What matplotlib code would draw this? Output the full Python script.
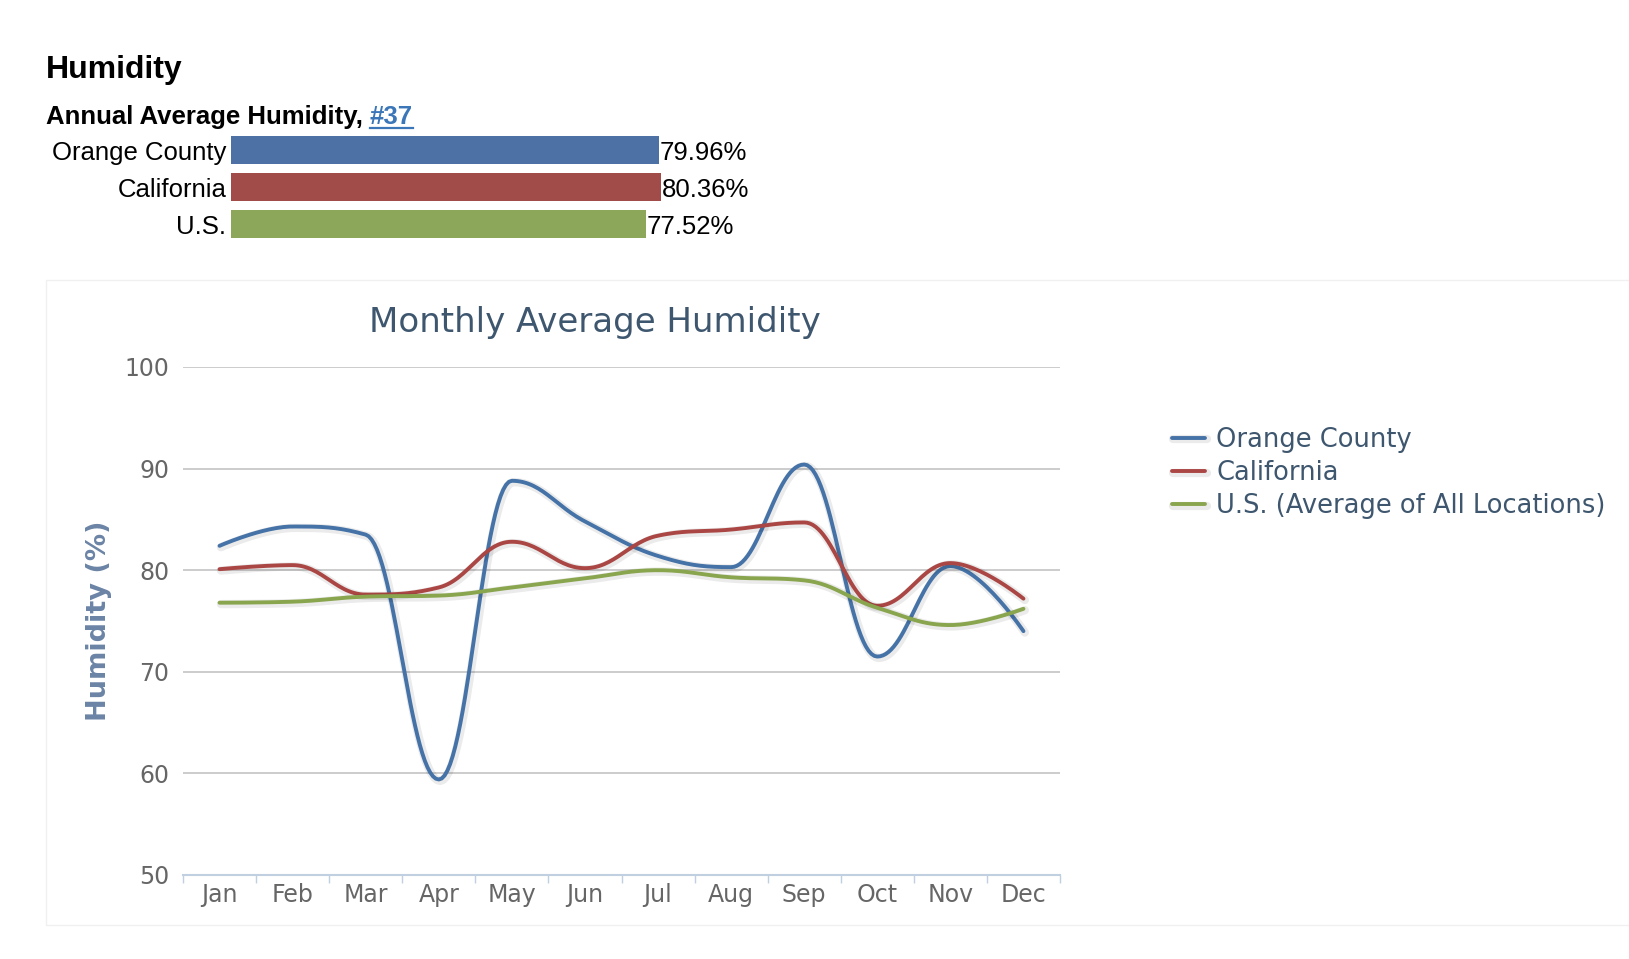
import matplotlib
matplotlib.use("Agg")
import matplotlib.pyplot as plt
import matplotlib.patheffects as pe
from matplotlib.patches import Rectangle
from matplotlib.lines import Line2D
import numpy as np

W, H = 1629, 959

months = ["Jan", "Feb", "Mar", "Apr", "May", "Jun", "Jul", "Aug", "Sep", "Oct", "Nov", "Dec"]
orange_county = [82.4, 84.3, 83.5, 59.4, 88.8, 84.8, 81.4, 80.3, 90.4, 71.5, 80.4, 74.0]
california = [80.1, 80.5, 77.6, 78.3, 82.8, 80.2, 83.4, 84.0, 84.7, 76.5, 80.7, 77.2]
us_avg = [76.8, 76.9, 77.4, 77.5, 78.3, 79.2, 80.0, 79.3, 79.0, 76.3, 74.6, 76.2]

annual_names = ["Orange County", "California", "U.S."]
annual_values = [79.96, 80.36, 77.52]
annual_rank = "#37"

line_names = ["Orange County", "California", "U.S. (Average of All Locations)"]
line_colors = ["#4572A7", "#AA4643", "#89A54E"]
bar_colors = ["#4E71A5", "#A14C49", "#8CA759"]


def fx(px):
    return px / W


def fy(py):
    return 1 - py / H


def spline(xs, ys, smoothing=1.5, steps=30):
    # highcharts style spline: bezier segments with smoothed control points
    n = len(xs)
    left = [(x, y) for x, y in zip(xs, ys)]
    right = [(x, y) for x, y in zip(xs, ys)]
    denom = smoothing + 1
    for i in range(1, n - 1):
        x, y = xs[i], ys[i]
        lx, ly = xs[i - 1], ys[i - 1]
        nx, ny = xs[i + 1], ys[i + 1]
        lcx = (smoothing * x + lx) / denom
        lcy = (smoothing * y + ly) / denom
        rcx = (smoothing * x + nx) / denom
        rcy = (smoothing * y + ny) / denom
        corr = (rcy - lcy) * (rcx - x) / (rcx - lcx) + y - rcy
        lcy += corr
        rcy += corr
        if lcy > ly and lcy > y:
            lcy = max(ly, y)
            rcy = 2 * y - lcy
        elif lcy < ly and lcy < y:
            lcy = min(ly, y)
            rcy = 2 * y - lcy
        if rcy > ny and rcy > y:
            rcy = max(ny, y)
            lcy = 2 * y - rcy
        elif rcy < ny and rcy < y:
            rcy = min(ny, y)
            lcy = 2 * y - rcy
        left[i] = (lcx, lcy)
        right[i] = (rcx, rcy)
    t = np.linspace(0, 1, steps)
    outx, outy = [], []
    for i in range(1, n):
        p0 = (xs[i - 1], ys[i - 1])
        p1 = right[i - 1]
        p2 = left[i]
        p3 = (xs[i], ys[i])
        bx = (1 - t) ** 3 * p0[0] + 3 * (1 - t) ** 2 * t * p1[0] + 3 * (1 - t) * t ** 2 * p2[0] + t ** 3 * p3[0]
        by = (1 - t) ** 3 * p0[1] + 3 * (1 - t) ** 2 * t * p1[1] + 3 * (1 - t) * t ** 2 * p2[1] + t ** 3 * p3[1]
        outx.extend(bx)
        outy.extend(by)
    return np.array(outx), np.array(outy)


fig = plt.figure(figsize=(W / 100, H / 100), dpi=100)
fig.patch.set_facecolor("white")

# header texts
hfont = ["Liberation Sans", "DejaVu Sans"]
fig.text(fx(46), fy(70), "Humidity", fontsize=23, fontweight="bold", family=hfont,
         va="center", ha="left", color="black")
sub = fig.text(fx(46), fy(117), "Annual Average Humidity, ", fontsize=18.5, fontweight="bold",
               family=hfont, va="center", ha="left", color="black")
renderer = fig.canvas.get_renderer()
bb = sub.get_window_extent(renderer)
link = fig.text(bb.x1 / W, fy(117), annual_rank, fontsize=18.5, fontweight="bold",
                family=hfont, va="center", ha="left", color="#3A76B8")
lb = link.get_window_extent(renderer)
fig.add_artist(Line2D([lb.x0 / W, lb.x1 / W], [(lb.y0 + 1) / H, (lb.y0 + 1) / H],
                      color="#3A76B8", lw=1.6))

# annual bars
bax = fig.add_axes([fx(231), fy(242.5), 535 / W, 111 / H])
ypos = np.arange(len(annual_values))
bax.barh(ypos, annual_values, height=0.76, color=bar_colors)
bax.set_xlim(0, 100)
bax.set_ylim(2.5, -0.5)
bax.axis("off")
for yy, v, name in zip(ypos, annual_values, annual_names):
    bax.text(v + 0.1, yy + 0.08, f"{v:.2f}%", va="center", ha="left", fontsize=18.5,
             family=hfont, color="black")
    bax.text(-0.9, yy + 0.08, name, va="center", ha="right", fontsize=18.5,
             family=hfont, color="black")

# chart frame
fig.add_artist(Rectangle((fx(46), fy(925)), 1.2, (925 - 280) / H, transform=fig.transFigure,
                         facecolor="none", edgecolor="#f0f0f0", lw=1.0))

# main chart
ax = fig.add_axes([fx(183), fy(875), (1060 - 183) / W, (875 - 367) / H])
xs = np.arange(len(months))
for vals, name, col in zip([orange_county, california, us_avg], line_names, line_colors):
    sx, sy = spline(list(xs), vals)
    ax.plot(sx, sy, color=col, lw=2.8, label=name, solid_capstyle="round",
            path_effects=[pe.SimpleLineShadow(offset=(1, -1), shadow_color="black", alpha=0.08, linewidth=6),
                          pe.Normal()])

ax.set_xlim(-0.5, 11.5)
ax.set_ylim(50, 100)
ax.set_yticks([50, 60, 70, 80, 90, 100])
ax.set_xticks(xs)
ax.set_xticklabels(months)
ax.set_xticks(np.arange(-0.5, 12, 1), minor=True)
ax.tick_params(axis="x", which="major", length=0, pad=6, labelsize=17, labelcolor="#666666")
ax.tick_params(axis="x", which="minor", length=6, color="#C0D0E0", width=1)
ax.tick_params(axis="y", length=0, pad=10, labelsize=17, labelcolor="#666666")
for g in [60, 70, 80, 90, 100]:
    ax.axhline(g, color="#C8C8C8", lw=1.3, zorder=0)
for s in ["top", "right", "left"]:
    ax.spines[s].set_visible(False)
ax.spines["bottom"].set_color("#C0D0E0")
ax.spines["bottom"].set_linewidth(1.5)
ax.set_ylabel("Humidity (%)", fontsize=19.5, fontweight="bold", color="#6B84A6", labelpad=9)
fig.text(fx(595), fy(323), "Monthly Average Humidity", fontsize=24.5, color="#3E576F",
         ha="center", va="center")

ax.legend(loc="upper left", bbox_to_anchor=(fx(1172), fy(427)), bbox_transform=fig.transFigure,
          frameon=False, fontsize=18.5, handlelength=1.3, handletextpad=0.42,
          labelspacing=0.28, borderaxespad=0, borderpad=0, labelcolor="#3E576F")

fig.savefig("out.png", dpi=100, facecolor="white")
